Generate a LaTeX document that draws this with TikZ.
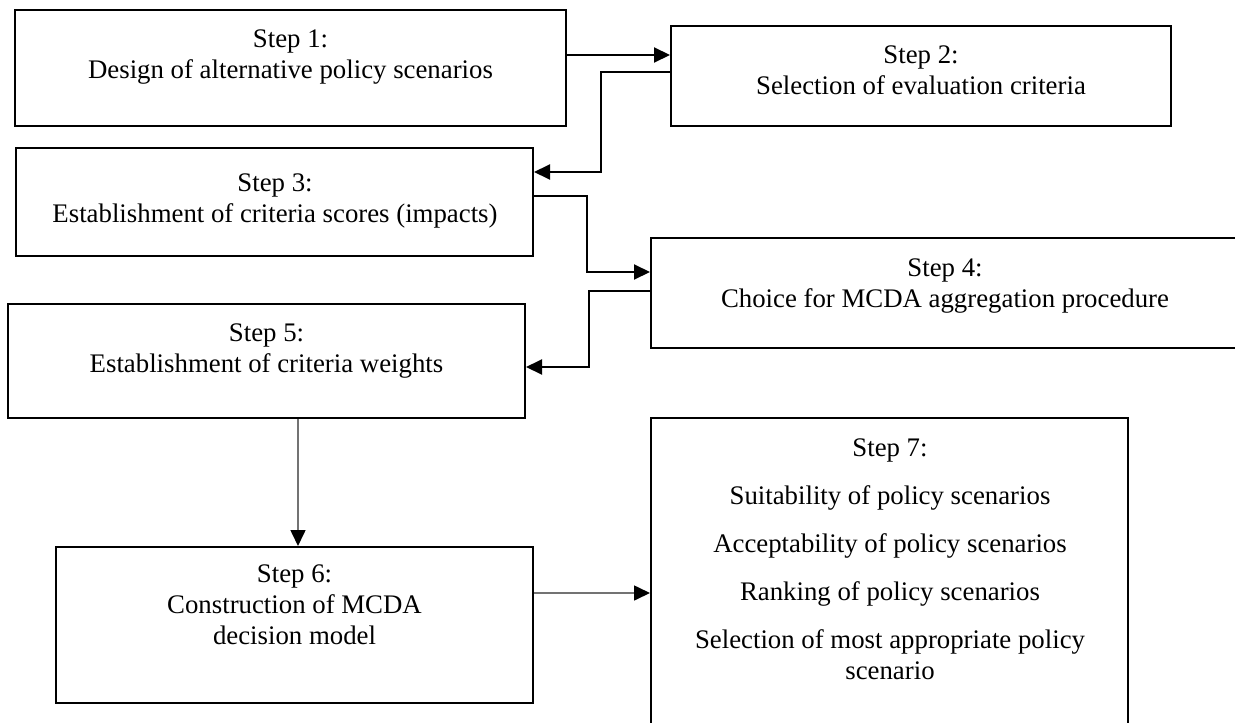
\documentclass[tikz,border=0pt]{standalone}
\usepackage{fontspec}
\setmainfont{Liberation Serif}
\usetikzlibrary{arrows.meta,fit}

\tikzset{
  stepbox/.style={draw, line width=1pt, inner sep=0pt},
  steptext/.style={anchor=north, align=center, inner sep=0pt, font=\fontsize{13.4}{15.5}\selectfont},
  flow/.style={line width=1pt, -{Triangle[length=8pt,width=7.5pt]}},
  thinflow/.style={draw=black!55, line width=0.8pt, -{Triangle[length=8pt,width=7.5pt,color=black]}}
}

\begin{document}
\begin{tikzpicture}[x=0.5pt,y=-0.5pt]
    \useasboundingbox (0,0) rectangle (1235,722);
    \clip (0,0) rectangle (1235,722);
    % boxes
    \node[stepbox, fit={(15,10) (566,126)}] (s1) {};
    \node[stepbox, fit={(671,26) (1171,126)}] (s2) {};
    \node[stepbox, fit={(16,148) (533,256)}] (s3) {};
    \node[stepbox, fit={(651,238) (1240,348)}] (s4) {}; % runs off the right edge
    \node[stepbox, fit={(8,304) (525,418)}] (s5) {};
    \node[stepbox, fit={(56,547) (533,703)}] (s6) {};
    \node[stepbox, fit={(651,418) (1128,740)}] (s7) {}; % runs off the bottom edge
    % texts
    \node[steptext] (t1) at (290.5,29) {Step 1:\\Design of alternative policy scenarios};
    \node[steptext] (t2) at (921,45) {Step 2:\\Selection of evaluation criteria};
    \node[steptext] (t3) at (275,173) {Step 3:\\Establishment of criteria scores (impacts)};
    \node[steptext] (t4) at (945,258) {Step 4:\\Choice for MCDA aggregation procedure};
    \node[steptext] (t5) at (266.5,323) {Step 5:\\Establishment of criteria weights};
    \node[steptext] (t6) at (294.5,564) {Step 6:\\Construction of MCDA\\decision model};
    \node[steptext] (t7) at (890,438) {Step 7:\\[8.5pt]
      Suitability of policy scenarios\\[8.5pt]
      Acceptability of policy scenarios\\[8.5pt]
      Ranking of policy scenarios\\[8.5pt]
      Selection of most appropriate policy\\scenario};
    % connectors
    \draw[flow] (s1.east |- 0,55) -- (s2.west |- 0,55); % 1 to 2
    \draw[flow] (s2.west |- 0,72) -| (601,172) -- (s3.east |- 0,172); % 2 to 3
    \draw[flow] (s3.east |- 0,196) -| (587,272) -- (s4.west |- 0,272); % 3 to 4
    \draw[flow] (s4.west |- 0,291) -| (589,367) -- (s5.east |- 0,367); % 4 to 5
    \draw[thinflow] (s5.south -| 298,0) -- (s6.north -| 298,0); % 5 to 6
    \draw[thinflow] (s6.east |- 0,593) -- (s7.west |- 0,593); % 6 to 7
\end{tikzpicture}
\end{document}
